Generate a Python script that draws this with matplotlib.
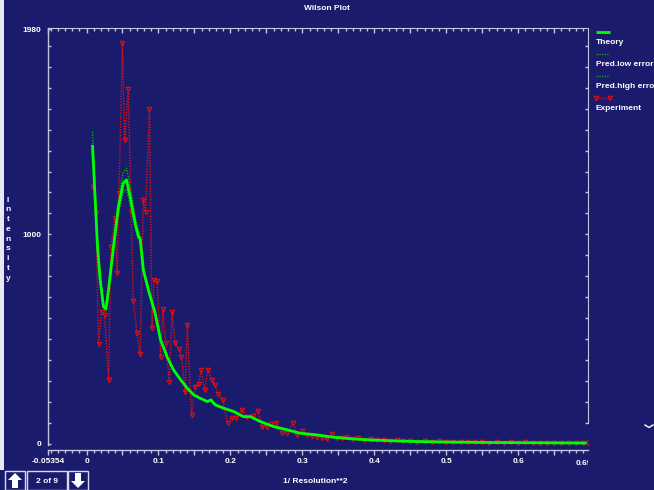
import numpy as np
import matplotlib.pyplot as plt
from matplotlib.patches import Rectangle, Polygon
from matplotlib.ticker import FixedLocator, NullFormatter, NullLocator
from matplotlib.transforms import Bbox

plt.rcParams['font.family'] = ['Liberation Sans', 'DejaVu Sans']

W, H = 654, 490
BG = '#1b1b6e'
FG = '#ffffff'
AXC = '#c4c4dc'

# theory curve and the predicted error bounds
th_x = [0.0083, 0.0107, 0.013, 0.0153, 0.019, 0.0236, 0.027, 0.0306, 0.0375, 0.0444,
        0.051, 0.0556, 0.0606, 0.0676, 0.0722, 0.0745, 0.079, 0.086, 0.0954, 0.103,
        0.112, 0.121, 0.131, 0.140, 0.149, 0.158, 0.168, 0.173, 0.179, 0.191,
        0.205, 0.218, 0.228, 0.242, 0.26, 0.279, 0.297, 0.32, 0.343, 0.37,
        0.4, 0.45, 0.5, 0.55, 0.6, 0.65, 0.695]
th_y = [1427, 1260, 1100, 941, 782, 655, 645, 735, 941, 1132,
        1244, 1260, 1180, 1053, 989, 981, 830, 735, 623, 496,
        416, 353, 305, 266, 234, 218, 202, 210, 186, 170,
        154, 130, 130, 106, 83, 67, 51, 43, 32, 24,
        18, 12, 9, 7, 6, 5, 4]
hi_y = [1490, 1300, 1135, 965, 800, 665, 655, 752, 968, 1172,
        1296, 1316, 1232, 1086, 1012, 1000, 842, 745, 630, 500,
        420, 356, 307, 268, 236, 219, 203, 211, 187, 171,
        155, 131, 131, 107, 84, 68, 52, 44, 33, 24,
        18, 12, 9, 7, 6, 5, 4]
lo_y = [1400, 1235, 1080, 925, 770, 648, 636, 722, 920, 1100,
        1205, 1216, 1142, 1030, 975, 965, 820, 725, 615, 492,
        412, 350, 303, 264, 232, 217, 201, 209, 185, 169,
        153, 129, 129, 105, 82, 66, 50, 42, 31, 24,
        18, 12, 9, 7, 6, 5, 4]

# measured intensities
ex_x = [0.0095, 0.013, 0.0167, 0.021, 0.025, 0.0306, 0.034, 0.039, 0.0426, 0.045,
        0.050, 0.053, 0.058, 0.062, 0.065, 0.070, 0.0745, 0.079, 0.082, 0.0875,
        0.091, 0.094, 0.098, 0.103, 0.106, 0.110, 0.115, 0.119, 0.123, 0.128,
        0.132, 0.137, 0.140, 0.146, 0.151, 0.156, 0.159, 0.164, 0.169, 0.174,
        0.178, 0.183, 0.189, 0.196, 0.202, 0.208, 0.216, 0.223, 0.231, 0.238,
        0.244, 0.251, 0.257, 0.264, 0.272, 0.279, 0.287, 0.293, 0.300, 0.307,
        0.314, 0.320, 0.327, 0.334, 0.341, 0.348, 0.355, 0.362, 0.370, 0.378,
        0.386, 0.395, 0.404, 0.413, 0.422, 0.431, 0.440, 0.450, 0.460, 0.470,
        0.480, 0.490, 0.500, 0.510, 0.520, 0.530, 0.540, 0.550, 0.560, 0.570,
        0.580, 0.590, 0.600, 0.610, 0.620, 0.630, 0.640, 0.650, 0.660, 0.670,
        0.680, 0.690, 0.697]
ex_y = [1228, 1100, 477, 631, 615, 305, 941, 1077, 814, 1196,
        1912, 1450, 1692, 1108, 684, 528, 429, 1164, 1108, 1597,
        552, 782, 779, 416, 643, 483, 297, 631, 480, 455,
        416, 250, 568, 138, 271, 286, 353, 258, 353, 305,
        282, 240, 210, 102, 123, 123, 162, 127, 135, 159,
        83, 83, 95, 102, 51, 51, 98, 43, 60, 43,
        40, 35, 30, 22, 48, 30, 28, 33, 24, 26,
        20, 23, 17, 21, 15, 18, 13, 15, 11, 13,
        10, 12, 9, 11, 8, 10, 7, 9, 6, 8,
        6, 7, 5, 7, 5, 6, 4, 6, 4, 5,
        3, 5, 4]

x_major = [-0.05354, 0.0, 0.05, 0.1, 0.15, 0.2, 0.25, 0.3, 0.35, 0.4, 0.45, 0.5, 0.55, 0.6, 0.65]
x_labels = ['-0.05354', '0', '', '0.1', '', '0.2', '', '0.3', '', '0.4', '', '0.5', '', '0.6', '']
x_minor = [round(0.01 * i, 2) for i in range(-5, 70)]
y_major = [0, 1000, 1980]
y_minor = list(range(0, 2000, 100))

theory_style = dict(color='#00ff00', lw=2.0, solid_capstyle='butt')
pred_style = dict(color='#00b000', lw=1.0, ls=(0, (1, 1)))
exp_style = dict(color='#e01010', lw=1.0, ls=(0, (1, 1)), marker='v', ms=3.2,
                 mfc='none', mec='#e01010', mew=0.8)
fs = dict(fontsize=6, fontweight='bold', color=FG)


def rect(x0, y0, x1, y1):
    return [x0 / W, 1 - y1 / H, (x1 - x0) / W, (y1 - y0) / H]


fig = plt.figure(figsize=(W / 100, H / 100), dpi=100, facecolor=BG)
ax = fig.add_axes(rect(48, 28, 588, 450), facecolor=BG)
ax.set_xlim(-0.05354, 0.697)
ax.set_ylim(-29, 1985)

ax.plot(th_x, lo_y, zorder=2, **pred_style)
ax.plot(th_x, hi_y, zorder=2, **pred_style)
ax.plot(ex_x, ex_y, zorder=3, **exp_style)
ax.plot(th_x, th_y, zorder=4, **theory_style)

for s in ax.spines.values():
    s.set_color(AXC)
    s.set_linewidth(1)
ax.spines['left'].set_bounds(-3, 1985)
ax.spines['right'].set_visible(False)
ax.spines['top'].set_visible(False)

ax.xaxis.set_major_locator(FixedLocator(x_major))
ax.set_xticklabels(x_labels)
ax.xaxis.set_minor_locator(FixedLocator(x_minor))
ax.tick_params(axis='x', which='both', direction='out', colors=AXC, labelcolor=FG,
               labelsize=6, pad=2.5)
ax.tick_params(axis='x', which='major', length=3.5, width=1)
ax.tick_params(axis='x', which='minor', length=2, width=1)

ax.yaxis.set_major_locator(FixedLocator(y_major))
ax.yaxis.set_minor_locator(FixedLocator(y_minor))
ax.tick_params(axis='y', which='both', direction='in', colors=AXC, labelcolor=FG,
               labelsize=6, pad=5, length=2.5, width=1)
for lab in ax.get_xticklabels() + ax.get_yticklabels():
    lab.set_fontweight('bold')

# top axis: ticks pointing inward, no labels
top = ax.secondary_xaxis('top')
top.xaxis.set_major_locator(FixedLocator(x_major))
top.xaxis.set_minor_locator(FixedLocator(x_minor))
top.xaxis.set_major_formatter(NullFormatter())
top.tick_params(axis='x', which='both', direction='in', colors=AXC, width=1)
top.tick_params(axis='x', which='major', length=3.5)
top.tick_params(axis='x', which='minor', length=2)
top.spines['top'].set_color(AXC)

# right axis stops short of zero
right = ax.secondary_yaxis('right')
right.yaxis.set_major_locator(NullLocator())
right.yaxis.set_minor_locator(FixedLocator(y_minor[1:]))
right.tick_params(axis='y', which='both', direction='in', colors=AXC, width=1, length=2.5)
right.spines['right'].set_color(AXC)
right.spines['right'].set_bounds(100, 1985)

ov = fig.add_axes([0, 0, 1, 1])
ov.set_xlim(0, W)
ov.set_ylim(H, 0)
ov.axis('off')
ov.patch.set_alpha(0)

# last x label, cut off at the frame edge
t = ov.text(576, 463, '0.697', ha='left', va='center', **fs)
t.set_clip_box(Bbox.from_extents(0, 0, 588 * fig.dpi / 100, H))
t.set_clip_on(True)

ov.text(W / 2, 9, 'Wilson Plot', ha='center', va='center', **fs)
ov.text(315, 481, '1/ Resolution**2', ha='center', va='center', **fs)
ov.text(8, 239, '\n'.join('Intensity'), ha='center', va='center', linespacing=1.55, **fs)

# legend
ov.plot([596, 610], [32, 32], **theory_style)
ov.text(596, 42, 'Theory', ha='left', va='center', **fs)
ov.plot([596, 608], [54, 54], **pred_style)
ov.text(596, 64, 'Pred.low errors', ha='left', va='center', **fs)
ov.plot([596, 608], [76, 76], **pred_style)
ov.text(596, 86, 'Pred.high errors', ha='left', va='center', **fs)
ov.plot([596, 610], [98, 98], **exp_style)
ov.text(596, 108, 'Experiment', ha='left', va='center', **fs)

# window chrome: left strip, page buttons and scroll mark
ov.add_patch(Rectangle((0, 0), 4, 470, facecolor='#e8e8f0', edgecolor='none'))
for x0, x1 in [(5, 25), (27, 67), (68, 88)]:
    ov.add_patch(Rectangle((x0, 471), x1 - x0, 19, facecolor=BG, edgecolor='#d8d8e8', lw=1))
ov.add_patch(Polygon([(15, 473), (22, 480), (18, 480), (18, 488), (12, 488), (12, 480), (8, 480)],
                     closed=True, facecolor=FG, edgecolor='none'))
ov.add_patch(Polygon([(78, 488), (85, 481), (81, 481), (81, 473), (75, 473), (75, 481), (71, 481)],
                     closed=True, facecolor=FG, edgecolor='none'))
ov.text(47, 481, '2 of 9', ha='center', va='center', **fs)
ov.plot([645, 649, 653], [425, 427.5, 425], color=FG, lw=1.0)

fig.savefig('out.png', dpi=100, facecolor=BG)
